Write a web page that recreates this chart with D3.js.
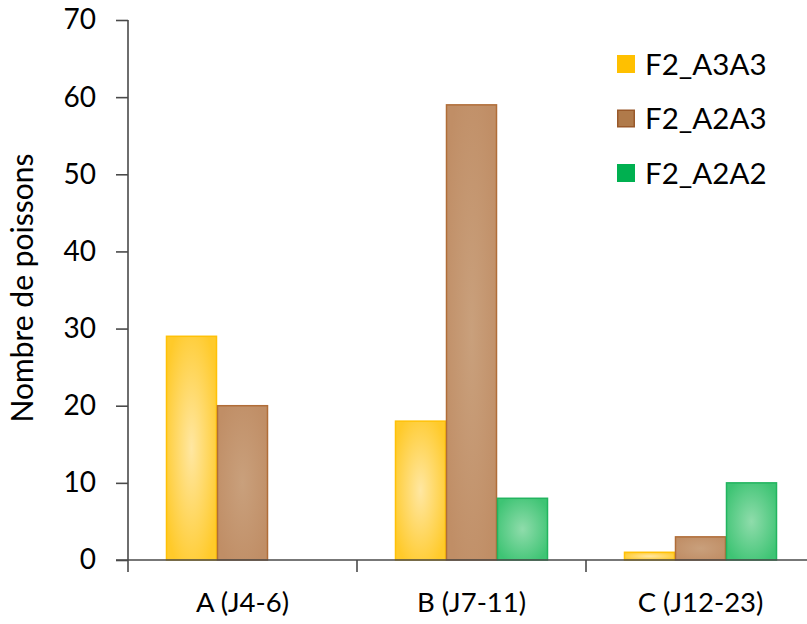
<!DOCTYPE html>
<html>
<head>
<meta charset="utf-8">
<script src="https://cdn.jsdelivr.net/npm/d3@7/dist/d3.min.js"></script>
<style>
  html, body { margin: 0; padding: 0; background: #fff; }
  svg { display: block; font-family: Lato, "Open Sans", sans-serif; }
</style>
</head>
<body>
<svg id="chart" width="807" height="624"></svg>
<script>
// Fish counts per developmental stage, by genotype
const categories = ["A (J4-6)", "B (J7-11)", "C (J12-23)"];
const seriesNames = ["F2_A3A3", "F2_A2A3", "F2_A2A2"];
const valuesA3A3 = [29, 18, 1];
const valuesA2A3 = [20, 59, 3];
const valuesA2A2 = [0, 8, 10];
const yTicks = [0, 10, 20, 30, 40, 50, 60, 70];
const yTitle = "Nombre de poissons";

const seriesValues = [valuesA3A3, valuesA2A3, valuesA2A2];
const palette = {
  "F2_A3A3": { center: "#FFE7A2", edge: "#FFCA2A", stroke: "#FFC107", legend: "#FFC000", legendStroke: "#FFC000" },
  "F2_A2A3": { center: "#C9A07C", edge: "#C08E66", stroke: "#B06D38", legend: "#B07A4A", legendStroke: "#99592A" },
  "F2_A2A2": { center: "#8FDCAB", edge: "#3EC474", stroke: "#22B45F", legend: "#00B050", legendStroke: "#00B050" }
};

const svg = d3.select("#chart");
const plot = { left: 128, right: 815, top: 20, bottom: 560 };

const x = d3.scaleBand().domain(categories).range([plot.left, plot.right]).paddingInner(0).paddingOuter(0);
const xs = d3.scaleBand().domain(seriesNames).range([0, x.bandwidth()]).paddingInner(0).paddingOuter(0.745);
const y = d3.scaleLinear().domain([0, 70]).range([plot.bottom, plot.top]);

// radial fills for the bars
const defs = svg.append("defs");
seriesNames.forEach((s, i) => {
  const g = defs.append("radialGradient").attr("id", "grad" + i)
    .attr("cx", "50%").attr("cy", "50%").attr("r", "60%");
  g.append("stop").attr("offset", "0%").attr("stop-color", palette[s].center);
  g.append("stop").attr("offset", "100%").attr("stop-color", palette[s].edge);
});

// bars
const rows = [];
categories.forEach((c, ci) => {
  seriesNames.forEach((s, si) => {
    rows.push({ cat: c, series: s, si: si, value: seriesValues[si][ci] });
  });
});

svg.append("g").selectAll("rect")
  .data(rows.filter(d => d.value > 0))
  .join("rect")
  .attr("x", d => x(d.cat) + xs(d.series) + 0.5)
  .attr("y", d => y(d.value))
  .attr("width", xs.bandwidth() - 1)
  .attr("height", d => y(0) - y(d.value))
  .attr("fill", d => `url(#grad${d.si})`)
  .attr("stroke", d => palette[d.series].stroke)
  .attr("stroke-width", 1.5);

const axisColor = "#4a4a4a";

// y axis
const yAxis = svg.append("g")
  .attr("transform", `translate(${plot.left},0)`)
  .call(d3.axisLeft(y).tickValues(yTicks).tickSize(12).tickPadding(20).tickSizeOuter(0));
yAxis.select(".domain").attr("stroke", axisColor).attr("stroke-width", 1.6)
  .attr("d", `M0,${plot.top}V${plot.bottom + 12}`);
yAxis.selectAll(".tick line").attr("stroke", axisColor).attr("stroke-width", 1.6);
yAxis.selectAll(".tick text").attr("fill", "#000").style("font-size", "28px")
  .style("font-family", "Lato, 'Open Sans', sans-serif");

// x axis: labels at band centres, tick marks between categories
const xAxis = svg.append("g")
  .attr("transform", `translate(0,${plot.bottom})`)
  .call(d3.axisBottom(x).tickSize(0).tickPadding(32).tickSizeOuter(0));
xAxis.select(".domain").attr("stroke", axisColor).attr("stroke-width", 1.6)
  .attr("d", `M${plot.left - 12},0H${plot.right}`);
xAxis.selectAll(".tick text").attr("fill", "#000").style("font-size", "27.5px")
  .style("font-family", "Lato, 'Open Sans', sans-serif");
const boundaries = categories.slice(1).map(c => x(c));
xAxis.selectAll(".sep").data(boundaries).join("line")
  .attr("class", "sep")
  .attr("x1", d => d).attr("x2", d => d)
  .attr("y1", 0).attr("y2", 12)
  .attr("stroke", axisColor).attr("stroke-width", 1.6);

// y axis title
svg.append("text")
  .attr("transform", `translate(33,${(plot.top + plot.bottom) / 2 - 2}) rotate(-90)`)
  .attr("text-anchor", "middle")
  .style("font-size", "30px")
  .attr("fill", "#000")
  .text(yTitle);

// legend
const legend = svg.append("g").attr("transform", "translate(617,55)");
const li = legend.selectAll("g").data(seriesNames).join("g")
  .attr("transform", (d, i) => `translate(0,${i * 54.5})`);
li.append("rect")
  .attr("x", 0.75).attr("y", 0.75).attr("width", 16.5).attr("height", 16.5)
  .attr("fill", d => palette[d].legend)
  .attr("stroke", d => palette[d].legendStroke).attr("stroke-width", 1.5);
li.append("text")
  .attr("x", 28).attr("y", 9).attr("dy", "0.36em")
  .style("font-size", "29.5px").attr("fill", "#000")
  .text(d => d);
</script>
</body>
</html>
